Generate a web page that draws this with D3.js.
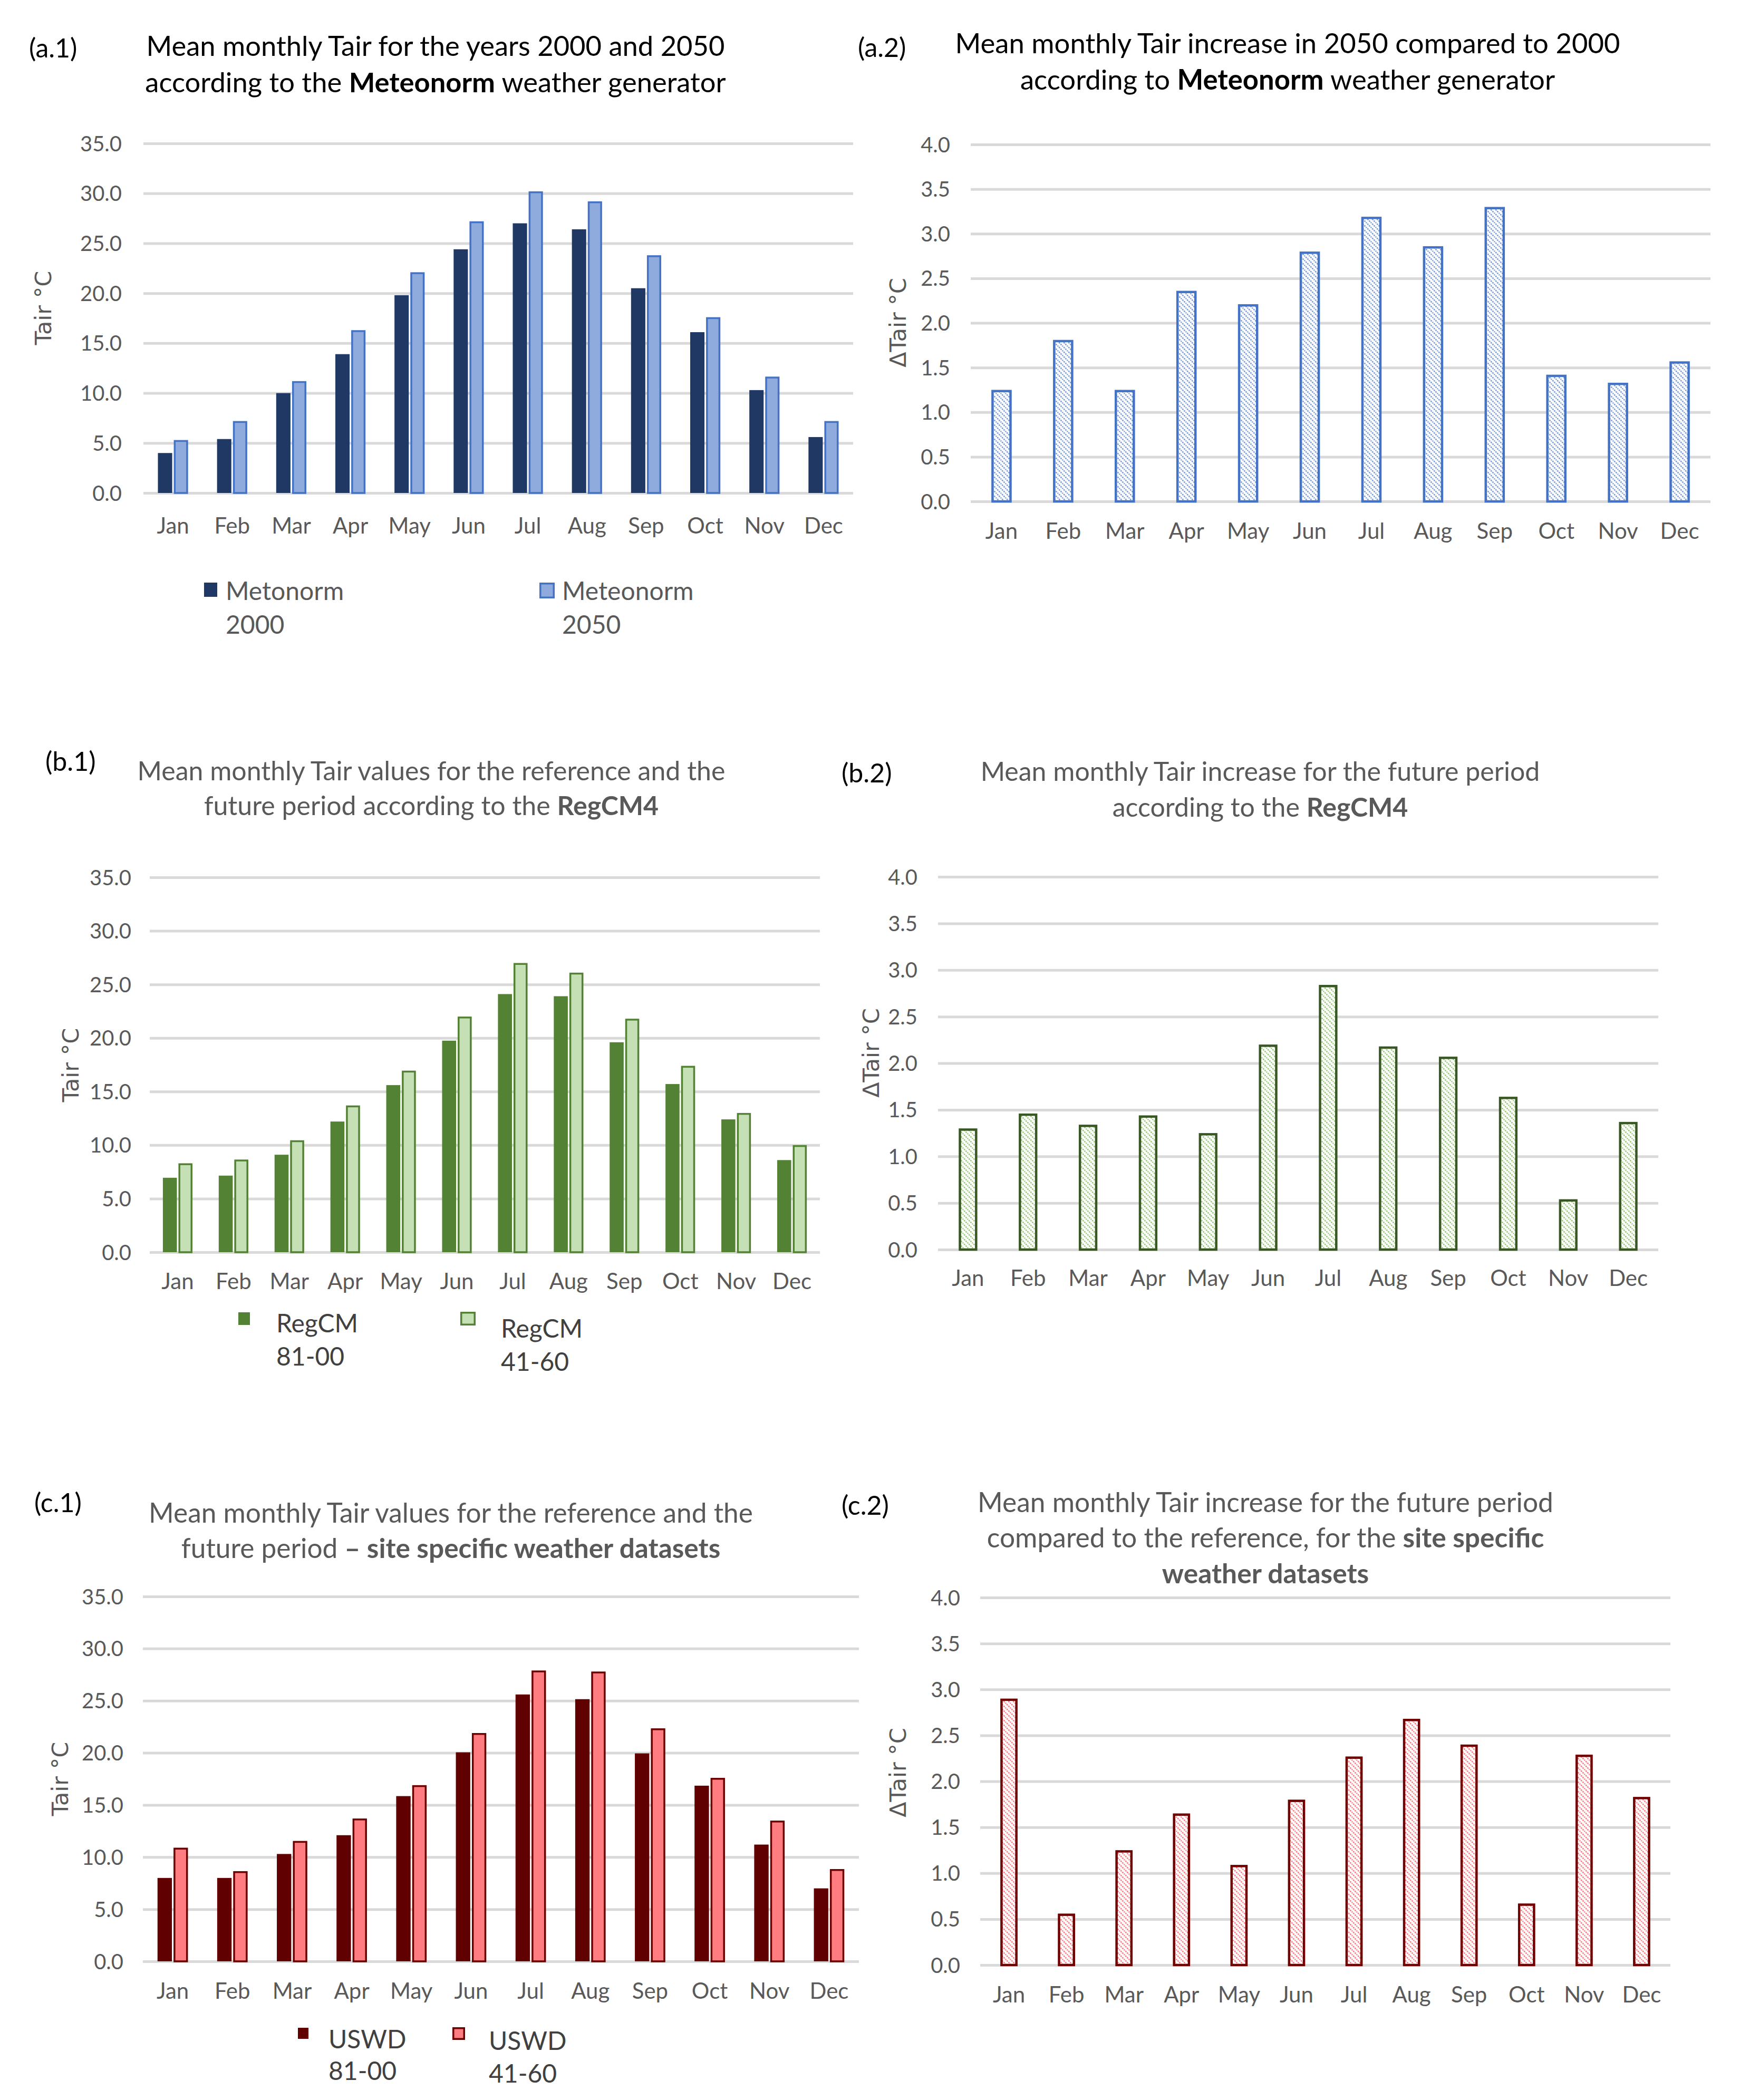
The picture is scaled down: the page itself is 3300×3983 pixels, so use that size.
<!DOCTYPE html>
<html><head><meta charset="utf-8">
<script src="https://cdn.jsdelivr.net/npm/d3@7/dist/d3.min.js"></script>
<style>body{margin:0;background:#fff}</style>
</head><body>
<svg id="chart" width="3300" height="3983" xmlns="http://www.w3.org/2000/svg"></svg>
<script>
// ---------------- DATA ----------------
const months = ["Jan","Feb","Mar","Apr","May","Jun","Jul","Aug","Sep","Oct","Nov","Dec"];
const meteonorm2000 = [4.0,5.4,10.0,13.9,19.8,24.4,27.0,26.4,20.5,16.1,10.3,5.6];
const meteonorm2050 = [5.3,7.2,11.2,16.3,22.1,27.2,30.2,29.2,23.8,17.6,11.65,7.2];
const meteonormDelta = [1.25,1.81,1.25,2.36,2.21,2.80,3.19,2.86,3.30,1.42,1.33,1.57];
const regcmRef = [6.95,7.15,9.1,12.2,15.6,19.75,24.1,23.9,19.6,15.7,12.4,8.6];
const regcmFut = [8.3,8.65,10.45,13.7,16.95,22.0,27.0,26.1,21.8,17.4,13.0,10.0];
const regcmDelta = [1.30,1.46,1.34,1.44,1.25,2.20,2.84,2.18,2.07,1.64,0.54,1.37];
const uswdRef = [8.0,8.0,10.3,12.1,15.85,20.05,25.6,25.15,19.95,16.85,11.2,7.0];
const uswdFut = [10.9,8.65,11.55,13.7,16.9,21.9,27.9,27.8,22.35,17.6,13.5,8.85];
const uswdDelta = [2.90,0.56,1.25,1.65,1.09,1.80,2.27,2.68,2.40,0.67,2.29,1.83];
const tairTicks = [0,5,10,15,20,25,30,35];
const deltaTicks = [0,0.5,1,1.5,2,2.5,3,3.5,4];
const legendA = [["Metonorm","2000"],["Meteonorm","2050"]];
const legendB = [["RegCM","81-00"],["RegCM","41-60"]];
const legendC = [["USWD","81-00"],["USWD","41-60"]];

// ---------------- LAYOUT ----------------
const FONT = "Lato, 'Open Sans', 'Noto Sans', sans-serif";
const svg = d3.select("#chart");
const defs = svg.append("defs");

function hatch(id, color) {
  const p = defs.append("pattern").attr("id", id).attr("patternUnits","userSpaceOnUse")
    .attr("width", 9).attr("height", 9);
  p.append("rect").attr("width",9).attr("height",9).attr("fill","#fff");
  p.append("path").attr("d","M-2,-2 L11,11 M-2,7 L2,11 M7,-2 L11,2")
    .attr("stroke", color).attr("stroke-width", 2.6).attr("stroke-dasharray","3,1.5");
}
hatch("hBlue", "#7FA0DA");
hatch("hGreen", "#9CCB7E");
hatch("hRed", "#FF7F85");

const panels = [
  { id:"(a.1)", lab:[55,91], labColor:"#000", titleColor:"#000", titleX:826, titleY:[88,157], titleW:1097,
    title:[[["Mean monthly Tair for the years 2000 and 2050",false]],[["according to the ",false],["Meteonorm",true],[" weather generator",false]]],
    x0:272, x1:1618, yTop:272, yBot:935, max:35, ticks:tairTicks, tickRight:231, monthY:997,
    ylab:"Tair °C", ylabX:82, ylabY:584,
    series:[meteonorm2000, meteonorm2050], fills:["#203864","#8FAADC"], strokes:[null,"#4472C4"],
    groupFrac:0.51,
    legend:{ names:legendA, color:"#595959", items:[
      {sq:[387,1105,25,27], tx:428, ty:[1121,1185]},
      {sq:[1023,1105,29,30], tx:1066, ty:[1121,1185]}]} },
  { id:"(a.2)", lab:[1627,90], labColor:"#000", titleColor:"#000", titleX:2442, titleY:[83,152], titleW:1261,
    title:[[["Mean monthly Tair increase in 2050 compared to 2000",false]],[["according to ",false],["Meteonorm",true],[" weather generator",false]]],
    x0:1841, x1:3244, yTop:274, yBot:951, max:4, ticks:deltaTicks, tickRight:1802, monthY:1007,
    ylab:"ΔTair °C", ylabX:1703, ylabY:612,
    delta:meteonormDelta, pattern:"hBlue", stroke:"#4472C4", barFrac:0.33 },
  { id:"(b.1)", lab:[86,1444], labColor:"#000", titleColor:"#595959", titleX:818, titleY:[1462,1528], titleW:1115,
    title:[[["Mean monthly Tair values for the reference and the",false]],[["future period according to the ",false],["RegCM4",true]]],
    x0:284, x1:1555, yTop:1664, yBot:2375, max:35, ticks:tairTicks, tickRight:249, monthY:2430,
    ylab:"Tair °C", ylabX:134, ylabY:2020,
    series:[regcmRef, regcmFut], fills:["#548235","#C5E0B4"], strokes:[null,"#548235"],
    groupFrac:0.53,
    legend:{ names:legendB, color:"#404040", items:[
      {sq:[452,2489,22,24], tx:524, ty:[2510,2573]},
      {sq:[873,2488,29,26], tx:950, ty:[2520,2583]}]} },
  { id:"(b.2)", lab:[1596,1466], labColor:"#000", titleColor:"#595959", titleX:2390, titleY:[1463,1531], titleW:1061,
    title:[[["Mean monthly Tair increase for the future period",false]],[["according to the ",false],["RegCM4",true]]],
    x0:1779, x1:3145, yTop:1663, yBot:2370, max:4, ticks:deltaTicks, tickRight:1740, monthY:2424,
    ylab:"ΔTair °C", ylabX:1652, ylabY:1997,
    delta:regcmDelta, pattern:"hGreen", stroke:"#385723", barFrac:0.31 },
  { id:"(c.1)", lab:[65,2850], labColor:"#000", titleColor:"#595959", titleX:855, titleY:[2870,2937], titleW:1146,
    title:[[["Mean monthly Tair values for the reference and the",false]],[["future period ",false],["– site specific weather datasets",true]]],
    x0:271, x1:1629, yTop:3028, yBot:3720, max:35, ticks:tairTicks, tickRight:234, monthY:3776,
    ylab:"Tair °C", ylabX:114, ylabY:3374,
    series:[uswdRef, uswdFut], fills:["#600000","#FF7C80"], strokes:[null,"#6B0000"],
    groupFrac:0.51,
    legend:{ names:legendC, color:"#404040", items:[
      {sq:[565,3846,20,21], tx:623, ty:[3868,3928]},
      {sq:[858,3845,24,24], tx:927, ty:[3871,3933]}]} },
  { id:"(c.2)", lab:[1596,2855], labColor:"#000", titleColor:"#595959", titleX:2400, titleY:[2850,2917,2985], titleW:1092,
    title:[[["Mean monthly Tair increase for the future period",false]],[["compared to the reference, for the ",false],["site specific",true]],[["weather datasets",true]]],
    x0:1859, x1:3168, yTop:3030, yBot:3727, max:4, ticks:deltaTicks, tickRight:1821, monthY:3783,
    ylab:"ΔTair °C", ylabX:1703, ylabY:3362,
    delta:uswdDelta, pattern:"hRed", stroke:"#700000", barFrac:0.30 }
];

function drawPanel(p) {
  const g = svg.append("g");
  const y = d3.scaleLinear().domain([0, p.max]).range([p.yBot, p.yTop]);
  const x = d3.scaleBand().domain(months).range([p.x0, p.x1]).paddingInner(0).paddingOuter(0);
  const step = x.step();

  // gridlines + y tick labels via axis
  const ya = g.append("g").attr("transform", `translate(${p.x0},0)`)
    .call(d3.axisLeft(y).tickValues(p.ticks).tickSize(-(p.x1 - p.x0))
      .tickPadding(p.x0 - p.tickRight).tickFormat(d3.format(".1f")));
  ya.select(".domain").remove();
  ya.selectAll(".tick line").attr("stroke", "#D9D9D9").attr("stroke-width", 5);
  ya.selectAll(".tick text").attr("font-family", FONT).attr("font-size", 40)
    .attr("fill", "#595959").attr("dy", "0.35em");

  // month labels via axis
  const xa = g.append("g").attr("transform", `translate(0,${p.yBot})`)
    .call(d3.axisBottom(x).tickSize(0).tickPadding(0));
  xa.select(".domain").remove();
  xa.selectAll(".tick text").attr("font-family", FONT).attr("font-size", 42)
    .attr("fill", "#595959").attr("y", p.monthY - p.yBot).attr("dy", "0.35em");

  if (p.series) {
    const gw = step * p.groupFrac;
    const inner = d3.scaleBand().domain(d3.range(p.series.length)).range([0, gw]).paddingInner(0.1);
    p.series.forEach((s, si) => {
      const sw = p.strokes[si] ? 3.5 : 0;
      g.append("g").selectAll("rect").data(s).join("rect")
        .attr("x", (d, i) => x(months[i]) + (step - gw) / 2 + inner(si) + sw / 2)
        .attr("width", inner.bandwidth() - sw)
        .attr("y", d => y(d) + sw / 2)
        .attr("height", d => y(0) - y(d) - sw / 2)
        .attr("fill", p.fills[si])
        .attr("stroke", p.strokes[si] || "none")
        .attr("stroke-width", sw);
    });
  } else {
    const bw = step * p.barFrac, sw = 4.5;
    g.append("g").selectAll("rect").data(p.delta).join("rect")
      .attr("x", (d, i) => x(months[i]) + (step - bw) / 2 + sw / 2)
      .attr("width", bw - sw)
      .attr("y", d => y(d) + sw / 2)
      .attr("height", d => y(0) - y(d) - sw / 2)
      .attr("fill", `url(#${p.pattern})`)
      .attr("stroke", p.stroke).attr("stroke-width", sw);
  }

  // panel label
  g.append("text").attr("x", p.lab[0]).attr("y", p.lab[1]).attr("dy", "0.35em")
    .attr("font-family", FONT).attr("font-size", 50).attr("fill", p.labColor).text(p.id);

  // title
  const tg = g.append("g");
  const lines = p.title.map((segs, li) => {
    const t = tg.append("text").attr("x", p.titleX).attr("y", p.titleY[li]).attr("dy", "0.35em")
      .attr("text-anchor", "middle").attr("font-family", FONT).attr("font-size", 52)
      .attr("fill", p.titleColor);
    segs.forEach(([txt, b]) => t.append("tspan").attr("font-weight", b ? "bold" : "normal").text(txt));
    return t;
  });
  const w0 = lines[0].node().getComputedTextLength();
  if (w0 > 0) {
    const fs = Math.max(40, Math.min(64, 52 * p.titleW / w0));
    lines.forEach(t => t.attr("font-size", fs));
  }

  // y axis title
  g.append("text").attr("transform", `translate(${p.ylabX},${p.ylabY}) rotate(-90)`)
    .attr("text-anchor", "middle").attr("dy", "0.35em")
    .attr("font-family", "'DejaVu Sans', Verdana, sans-serif").attr("font-size", 43)
    .attr("fill", "#595959").text(p.ylab);

  // legend
  if (p.legend) {
    p.legend.items.forEach((it, i) => {
      const [sx, sy, w, h] = it.sq;
      const sw = p.strokes[i] ? 3.5 : 0;
      g.append("rect").attr("x", sx + sw / 2).attr("y", sy + sw / 2)
        .attr("width", w - sw).attr("height", h - sw)
        .attr("fill", p.fills[i]).attr("stroke", p.strokes[i] || "none").attr("stroke-width", sw);
      p.legend.names[i].forEach((ln, k) => {
        g.append("text").attr("x", it.tx).attr("y", it.ty[k]).attr("dy", "0.35em")
          .attr("font-family", FONT).attr("font-size", 48).attr("fill", p.legend.color).text(ln);
      });
    });
  }
}

panels.forEach(drawPanel);
</script>
</body></html>
